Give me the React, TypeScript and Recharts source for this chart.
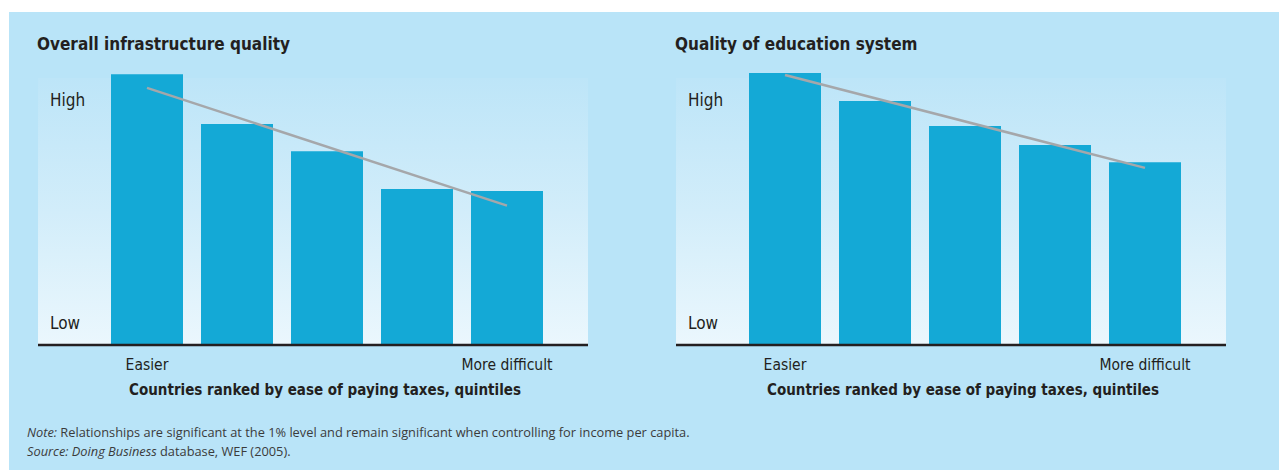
import React from 'react';
import { BarChart, Bar, XAxis, YAxis, ReferenceLine, Label } from 'recharts';

// quintiles of countries ranked by ease of paying taxes
const quintiles = ['Q1', 'Q2', 'Q3', 'Q4', 'Q5'];
const quintileLabels = ['Easier', '', '', '', 'More difficult'];

// relative scores, 0 = low, 100 = high
const infrastructureValues = [98.5, 80.4, 70.5, 56.7, 56.0];
const educationValues = [98.9, 88.7, 79.6, 72.7, 66.5];

// fitted trend, first and last quintile
const infrastructureTrend = [93.5, 50.7];
const educationTrend = [98.2, 64.4];

const levelTicks = [8, 89];
const levelLabels = ['Low', 'High'];

const NARROW = "'Liberation Sans Narrow', 'DejaVu Sans Condensed', sans-serif";
const TEXT = '#231f20';

interface PanelProps {
  title: string;
  values: number[];
  trend: number[];
  left: number;
}

const QuintileTick = (props: any) => {
  const { x, y, payload } = props;
  const idx = quintiles.indexOf(payload.value);
  return (
    <text x={x} y={y} dy={17} textAnchor="middle" fill={TEXT} fontSize={15.5} fontFamily={NARROW}>
      {quintileLabels[idx]}
    </text>
  );
};

const Panel: React.FC<PanelProps> = ({ title, values, trend, left }) => {
  const data = quintiles.map((q, i) => ({ name: q, value: values[i] }));
  return (
    <div style={{ position: 'absolute', left, top: 0, width: 640, height: 420 }}>
      <div
        style={{
          position: 'absolute',
          left: 37,
          top: 33,
          fontFamily: NARROW,
          fontWeight: 'bold',
          fontSize: 17,
          lineHeight: '22px',
          color: TEXT,
          whiteSpace: 'nowrap',
        }}
      >
        {title}
      </div>
      <div
        style={{
          position: 'absolute',
          left: 38,
          top: 78,
          width: 550,
          height: 268,
          background: 'linear-gradient(to bottom, #bde5f8 0%, #d2edfa 50%, #ebf7fd 100%)',
        }}
      />
      <div style={{ position: 'absolute', left: 0, top: 0 }}>
        <BarChart
          width={640}
          height={420}
          data={data}
          margin={{ top: 70, right: 52, bottom: 15, left: 38 }}
        >
          <XAxis
            dataKey="name"
            height={60}
            padding={{ left: 64, right: 36 }}
            axisLine={{ stroke: TEXT, strokeWidth: 2.5 }}
            tickLine={false}
            tick={<QuintileTick />}
            interval={0}
          >
            <Label
              value="Countries ranked by ease of paying taxes, quintiles"
              position="insideBottom"
              offset={10}
              dx={12}
              fill={TEXT}
              fontSize={15}
              fontWeight="bold"
              fontFamily={NARROW}
            />
          </XAxis>
          <YAxis hide domain={[0, 100]} />
          <Bar dataKey="value" fill="#14a9d6" barSize={72} isAnimationActive={false} />
          {levelTicks.map((t, i) => (
            <ReferenceLine
              key={t}
              y={t}
              stroke="none"
              label={{
                value: levelLabels[i],
                position: 'insideLeft',
                offset: 12,
                fill: TEXT,
                fontSize: 17,
                fontFamily: NARROW,
              }}
            />
          ))}
          <ReferenceLine
            segment={[
              { x: quintiles[0], y: trend[0] },
              { x: quintiles[quintiles.length - 1], y: trend[1] },
            ]}
            stroke="#a5a7aa"
            strokeWidth={2.5}
          />
        </BarChart>
      </div>
    </div>
  );
};

export default function App() {
  return (
    <div
      style={{
        position: 'absolute',
        left: 0,
        top: 0,
        width: 1279,
        height: 470,
        background: '#ffffff',
        overflow: 'hidden',
      }}
    >
      <div
        style={{
          position: 'absolute',
          left: 9,
          top: 12,
          width: 1270,
          height: 458,
          background: '#b9e4f8',
        }}
      />
      <Panel title="Overall infrastructure quality" values={infrastructureValues} trend={infrastructureTrend} left={0} />
      <Panel title="Quality of education system" values={educationValues} trend={educationTrend} left={638} />
      <div
        style={{
          position: 'absolute',
          left: 27,
          top: 423,
          fontFamily: "'Open Sans', sans-serif",
          fontSize: 12.8,
          lineHeight: '19px',
          color: '#3b3b3b',
          whiteSpace: 'nowrap',
        }}
      >
        <div>
          <i>Note:</i> Relationships are significant at the 1% level and remain significant when controlling for income per capita.
        </div>
        <div>
          <i>Source: Doing Business</i> database, WEF (2005).
        </div>
      </div>
    </div>
  );
}
